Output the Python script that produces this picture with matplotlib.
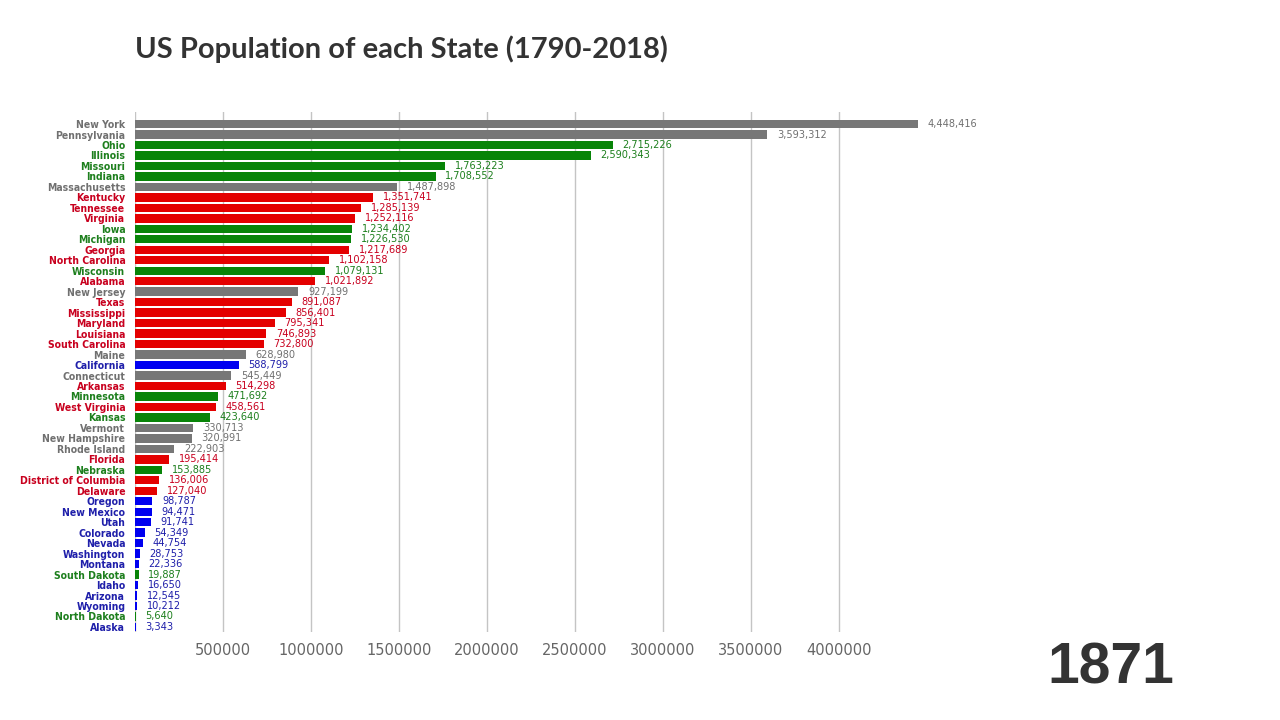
import matplotlib
matplotlib.use('Agg')
import matplotlib.pyplot as plt
from matplotlib.ticker import FuncFormatter

# Data for the 1871 frame
states = ['New York', 'Pennsylvania', 'Ohio', 'Illinois', 'Missouri', 'Indiana',
          'Massachusetts', 'Kentucky', 'Tennessee', 'Virginia', 'Iowa', 'Michigan',
          'Georgia', 'North Carolina', 'Wisconsin', 'Alabama', 'New Jersey', 'Texas',
          'Mississippi', 'Maryland', 'Louisiana', 'South Carolina', 'Maine',
          'California', 'Connecticut', 'Arkansas', 'Minnesota', 'West Virginia',
          'Kansas', 'Vermont', 'New Hampshire', 'Rhode Island', 'Florida', 'Nebraska',
          'District of Columbia', 'Delaware', 'Oregon', 'New Mexico', 'Utah',
          'Colorado', 'Nevada', 'Washington', 'Montana', 'South Dakota', 'Idaho',
          'Arizona', 'Wyoming', 'North Dakota', 'Alaska']
population = [4448416, 3593312, 2715226, 2590343, 1763223, 1708552,
              1487898, 1351741, 1285139, 1252116, 1234402, 1226530,
              1217689, 1102158, 1079131, 1021892, 927199, 891087,
              856401, 795341, 746893, 732800, 628980,
              588799, 545449, 514298, 471692, 458561,
              423640, 330713, 320991, 222903, 195414, 153885,
              136006, 127040, 98787, 94471, 91741,
              54349, 44754, 28753, 22336, 19887, 16650,
              12545, 10212, 5640, 3343]
# region: n = northeast (gray), m = midwest (green), s = south (red), w = west (blue)
region = ['n', 'n', 'm', 'm', 'm', 'm',
          'n', 's', 's', 's', 'm', 'm',
          's', 's', 'm', 's', 'n', 's',
          's', 's', 's', 's', 'n',
          'w', 'n', 's', 'm', 's',
          'm', 'n', 'n', 'n', 's', 'm',
          's', 's', 'w', 'w', 'w',
          'w', 'w', 'w', 'w', 'm', 'w',
          'w', 'w', 'm', 'w']
year = '1871'
xticks = [500000, 1000000, 1500000, 2000000, 2500000, 3000000, 3500000, 4000000]

bar_colors = {'n': '#777777', 'm': '#088408', 's': '#e40000', 'w': '#0000f0'}
text_colors = {'n': '#707070', 'm': '#1d7f1d', 's': '#c8001e', 'w': '#1f1faa'}

fig = plt.figure(figsize=(12.8, 7.2), dpi=100)
ax = fig.add_axes([135 / 1280, 1 - 632 / 720, (918 - 135) / 1280, 520 / 720])

ypos = list(range(len(states)))
ax.barh(ypos, population, height=0.8,
        color=[bar_colors[r] for r in region], zorder=2)

for y, v, r in zip(ypos, population, region):
    ax.text(v + 55000, y, f'{v:,}', va='center', ha='left', fontsize=7.8,
            family='DejaVu Sans', fontstretch='condensed',
            color=text_colors[r], clip_on=False)

ax.set_yticks(ypos)
ax.set_yticklabels(states, fontsize=7.5, fontweight='bold',
                   family='DejaVu Sans', fontstretch='condensed')
for lbl, r in zip(ax.get_yticklabels(), region):
    lbl.set_color(text_colors[r])

ax.set_xlim(0, max(population))
ax.set_ylim(len(states) - 0.52, -1.15)
ax.set_xticks(xticks)
ax.xaxis.set_major_formatter(FuncFormatter(lambda x, p: f'{int(x)}'))
ax.tick_params(axis='x', length=0, pad=8, labelsize=10.5, labelcolor='#666666')
ax.tick_params(axis='y', length=0, pad=7)
ax.grid(axis='x', color='#c4c4c4', linewidth=1, zorder=0)
ax.axvline(0, color='#c4c4c4', linewidth=1, zorder=0)
for s in ax.spines.values():
    s.set_visible(False)

fig.text(135 / 1280, 1 - 49 / 720, 'US Population of each State (1790-2018)',
         fontsize=21, fontweight='bold', family='Lato', color='#333333',
         va='center', ha='left')
fig.text(1174 / 1280, 1 - 669 / 720, year, fontsize=41, fontweight='bold',
         family='Liberation Sans', color='#333333', va='center', ha='right')

fig.savefig('out.png', dpi=100)
